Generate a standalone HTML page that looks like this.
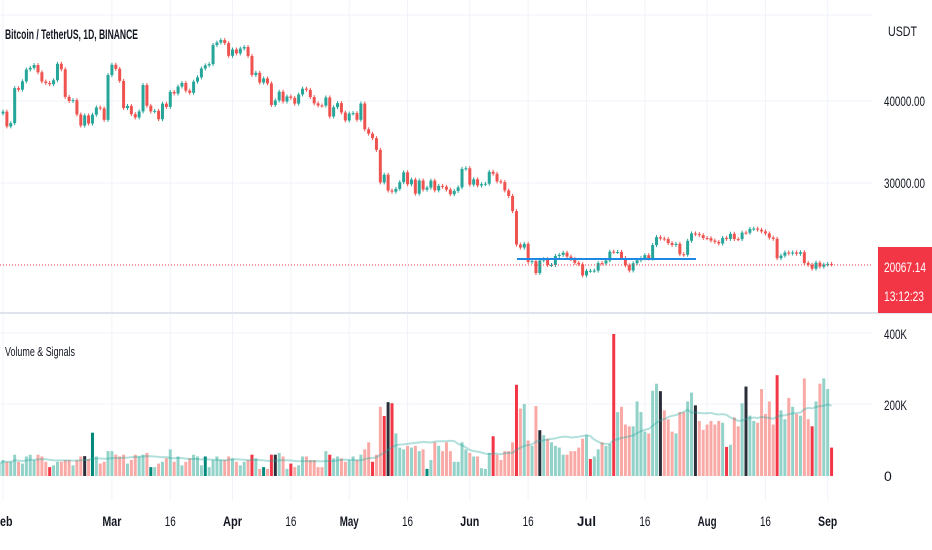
<!DOCTYPE html>
<html><head><meta charset="utf-8">
<style>
html,body{margin:0;padding:0;background:#fff;}
svg{display:block;font-family:"Liberation Sans",sans-serif;}
</style></head>
<body>
<svg id="chart" width="932" height="550" viewBox="0 0 932 550" xmlns="http://www.w3.org/2000/svg">
  <rect width="932" height="550" fill="#fff"/>
  <g id="grid"></g>
  <line x1="0" y1="313" x2="932" y2="313" stroke="#e0e3eb" stroke-width="2"/>
  <g id="candles"></g>
  <line x1="517" y1="259" x2="696" y2="259" stroke="#1e88e5" stroke-width="2"/>
  <line x1="0" y1="265" x2="872" y2="265" stroke="#f23645" stroke-width="1" stroke-dasharray="1,2"/>
  <g id="volume"></g>
  <path id="ma" fill="none" stroke="rgba(38,166,154,0.35)" stroke-width="2"/>
  <text x="5" y="39" font-size="14" font-weight="bold" fill="#131722" textLength="133" lengthAdjust="spacingAndGlyphs">Bitcoin / TetherUS, 1D, BINANCE</text>
  <text x="5" y="356" font-size="13" fill="#131722" textLength="70" lengthAdjust="spacingAndGlyphs">Volume &amp; Signals</text>
  <text x="888" y="36" font-size="14" fill="#131722" textLength="29" lengthAdjust="spacingAndGlyphs">USDT</text>
  <g id="yaxis"></g>
  <rect x="878" y="247" width="54" height="66" fill="#f23645"/>
  <text x="884" y="272" font-size="14" fill="#fff" textLength="42" lengthAdjust="spacingAndGlyphs">20067.14</text>
  <text x="884" y="301" font-size="14" fill="#fff" textLength="40" lengthAdjust="spacingAndGlyphs">13:12:23</text>
  <g id="xaxis"></g>
</svg>
<script>
const closes = [38480,
 38700,36900,37300,41570,41380,42400,43840,44040,44380,43500,42380,42200,42050,42530,44540,43870,40500,40000,40100,38360,37000,38240,37250,38330,39210,39100,37700,43160,
 44420,43920,42450,39140,39400,38400,37990,38730,41940,39420,38730,38800,37780,39670,39280,41110,40920,41760,42200,41260,41000,42360,42890,43960,44350,44500,46820,47130,47430,47060,45510,
 46280,45810,46400,46580,45490,43170,43440,42250,42750,42150,39520,40070,41130,39940,40550,40380,39680,40800,41500,41360,40480,39710,39450,39440,40430,38110,39240,39740,38600,37630,
 38470,38520,37710,39690,36550,36010,35470,34040,30070,31010,29080,28940,29280,30100,31300,29840,30420,28700,30300,29200,29430,30290,29100,29650,29540,29200,28630,29030,29470,31720,31800,
 29800,30450,29700,29860,29910,31370,31130,30200,30110,29090,28420,26570,22490,22130,22580,20380,20470,19020,20550,20710,20000,20000,21100,21230,21500,21030,20730,20260,20100,18730,
 19290,19300,19320,20230,20190,20550,21630,21590,21590,20850,19960,19330,20210,20580,20830,21200,20790,22430,23400,23230,23160,22680,22450,22580,21310,21250,22950,23850,23770,23640,23290,
 23270,22980,22820,22620,23310,23180,23810,23160,23150,23950,23930,24400,24440,24300,24100,23850,23340,23190,20830,21140,21520,21400,21530,21370,21560,20240,20040,19550,20280,19800,20050,
 20130,20067];
const volumes = [35,
 45,40,40,60,40,35,55,60,45,60,55,40,25,30,40,40,45,45,30,45,55,56,48,122,55,35,40,70,
 70,60,55,60,35,45,60,55,60,65,25,25,35,40,50,75,40,55,30,40,50,60,55,30,55,25,45,55,45,45,55,
 50,40,30,40,45,60,50,20,25,20,60,60,65,55,20,35,25,30,55,55,45,45,25,25,70,60,50,55,50,40,
 45,55,45,60,75,95,40,60,195,169,208,205,120,80,75,85,80,85,70,75,20,45,95,85,70,95,70,40,40,95,75,
 65,55,55,22,20,65,112,60,45,70,70,95,257,190,203,100,85,197,129,115,105,95,85,80,60,60,70,70,80,105,
 115,48,55,75,95,85,90,400,180,195,145,140,140,210,180,125,120,240,260,239,185,160,125,120,180,180,210,235,199,155,130,
 145,155,145,155,150,82,88,165,140,205,252,170,155,150,245,175,210,145,284,185,160,220,195,175,170,275,160,140,210,260,275,
 245,80];
const strongDown = [13,65,70,75,85,96,99,101,127,133,152,158,187,200,209,214];
const signalDays = [22,71,100,139,170,179,192];
const strongUp = [24,39,53,68,110];
const priceTicks = [40000,30000];
const priceTickLabels = ["40000.00","30000.00"];
const volTicks = [400,200,0];
const volTickLabels = ["400K","200K","0"];
const dateTickDays = [1,29,44,60,75,90,105,121,136,151,166,182,197,213];
const dateTickLabels = ["Feb","Mar","16","Apr","16","May","16","Jun","16","Jul","16","Aug","16","Sep"];
const dateTickBold = [1,1,0,1,0,1,0,1,0,1,0,1,0,1];

const NS="http://www.w3.org/2000/svg";
const xOf = i => 3 + (i-1)*3.89;
const yP = p => 101 + (40000-p)*0.0082;
const yV = v => 476 - v*0.355;
function mk(tag, attrs, parent){const e=document.createElementNS(NS,tag);for(const k in attrs)e.setAttribute(k,attrs[k]);parent.appendChild(e);return e;}

const grid=document.getElementById('grid');
[15,101,183,333,404].forEach(y=>{
  const l=mk('line',{x1:0,x2:872,y1:y,y2:y,stroke:'#f0f3fa','stroke-width':1},grid);
  
  
});
dateTickDays.forEach(d=>{
  const l=mk('line',{x1:xOf(d),x2:xOf(d),y1:0,y2:500,stroke:'#f0f3fa','stroke-width':1},grid);
  
  
});

const cg=document.getElementById('candles');
for(let i=1;i<closes.length;i++){
  const o=closes[i-1], c=closes[i], up=c>=o;
  const col=up?'#26a69a':'#ef5350';
  const x=xOf(i);
  const top=yP(Math.max(o,c)), bot=yP(Math.min(o,c));
  const w=mk('line',{x1:x,x2:x,y1:top-2,y2:bot+2,stroke:col,'stroke-width':1},cg);
  
  
  const b=mk('rect',{x:x-1.5,y:top,width:3,height:Math.max(1,bot-top),fill:col},cg);
  
  
}

const vg=document.getElementById('volume');
for(let i=0;i<volumes.length;i++){
  const up = i===0 ? true : closes[i]>=closes[i-1];
  let col = up?'#92d2c9':'#f9aaa6';
  if(strongDown.includes(i)) col='#f23645';
  if(strongUp.includes(i)) col='#00897b';
  if(signalDays.includes(i)) col='#2a2e39';
  const x=xOf(i), y=yV(volumes[i]);
  const r=mk('rect',{x:x-1.5,y:y,width:3,height:476-y,fill:col},vg);
  
  
}
let d='';
for(let i=0;i<volumes.length;i++){
  const s=Math.max(0,i-19); let sum=0;
  for(let j=s;j<=i;j++) sum+=volumes[j];
  const m=sum/(i-s+1);
  d+=(i?'L':'M')+xOf(i).toFixed(1)+','+yV(m).toFixed(1);
}
document.getElementById('ma').setAttribute('d',d);

const ya=document.getElementById('yaxis');
priceTicks.forEach((p,k)=>{
  const t=mk('text',{x:884,y:yP(p)+5,'font-size':14,fill:'#131722',textLength:41,lengthAdjust:'spacingAndGlyphs'},ya);
  t.textContent=priceTickLabels[k];
  
  
});
volTicks.forEach((v,k)=>{
  const t=mk('text',{x:884,y:yV(v)+5,'font-size':14,fill:'#131722'},ya);
  if(volTickLabels[k].length>1){t.setAttribute('textLength',23);t.setAttribute('lengthAdjust','spacingAndGlyphs');}
  t.textContent=volTickLabels[k];
  
  
});
const xa=document.getElementById('xaxis');
dateTickDays.forEach((dd,k)=>{
  const lab=dateTickLabels[k];
  const t=mk('text',{x:xOf(dd),y:526,'font-size':14,fill:'#131722','text-anchor':'middle','font-weight':dateTickBold[k]?'bold':'normal',textLength:lab.length===2?11:19,lengthAdjust:'spacingAndGlyphs'},xa);
  t.textContent=lab;
  
  
});
</script>
</body></html>
